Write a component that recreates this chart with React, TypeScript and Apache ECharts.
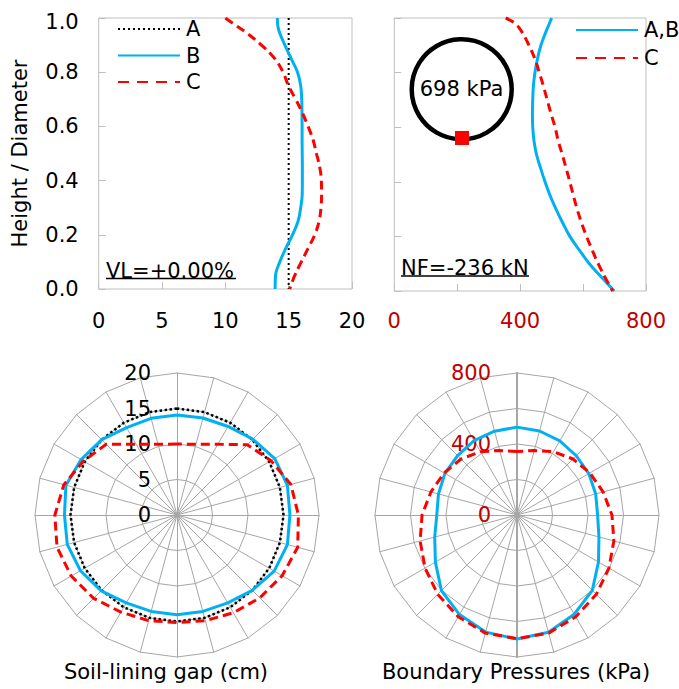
import React, { useEffect, useRef } from 'react';
import * as echarts from 'echarts';

const FONT = 'DejaVu Sans';

// Height / Diameter positions for the profile plots
const HEIGHTS = [1.0, 0.98, 0.95, 0.9, 0.85, 0.8, 0.75, 0.7, 0.65, 0.6, 0.55, 0.5, 0.45, 0.4, 0.35, 0.3, 0.25, 0.2, 0.15, 0.1, 0.05, 0.0];
// Soil-lining gap (cm)
const GAP_A_HEIGHTS = [1.0, 0.0];
const GAP_A = [15, 15];
const GAP_B = [14.11, 14.12, 14.25, 14.7, 15.2, 15.7, 15.95, 16.03, 16.05, 16.06, 16.06, 16.07, 16.08, 16.08, 16.07, 15.95, 15.74, 15.3, 14.77, 14.3, 13.96, 13.93];
const GAP_C = [10.0, 10.6, 11.54, 12.85, 13.9, 14.56, 14.98, 15.56, 16.08, 16.53, 16.93, 17.19, 17.45, 17.58, 17.6, 17.55, 17.4, 17.06, 16.53, 16.0, 15.48, 15.08];
// Boundary pressures (kPa)
const PRESS_AB = [500, 493, 482, 466, 455, 447, 442, 440, 439, 440, 444, 452, 465, 479, 495, 514, 535, 558, 588, 620, 659, 699];
const PRESS_C = [354, 384, 405, 428, 447, 461, 474, 486, 498, 511, 521, 534, 546, 558, 569, 581, 595, 611, 629, 648, 670, 694];

// Radar values, clockwise from crown, 15 degree steps (24 spokes)
const RADAR_GAP_A = [15, 15, 15, 15, 15, 15, 15, 15, 15, 15, 15, 15, 15, 15, 15, 15, 15, 15, 15, 15, 15, 15, 15, 15];
const RADAR_GAP_B = [14.07, 14.15, 14.4, 15.1, 15.9, 16.1, 15.9, 16.1, 15.8, 15.0, 14.3, 14.06, 14.06, 14.06, 14.3, 15.1, 15.7, 16.0, 15.85, 16.2, 15.6, 15.0, 14.2, 14.1];
const RADAR_GAP_C = [10.0, 10.3, 11.5, 14.0, 15.3, 16.6, 17.1, 17.6, 17.1, 16.5, 15.9, 15.4, 15.15, 15.4, 15.8, 16.6, 17.2, 17.5, 17.2, 16.5, 15.2, 14.1, 11.5, 10.3];
const RADAR_PRESS_AB = [495, 490, 482, 472, 467, 459, 454, 478, 530, 600, 645, 684, 699, 683, 648, 602, 531, 480, 452, 458, 469, 473, 484, 489];
const RADAR_PRESS_C = [358, 376, 412, 446, 474, 502, 535, 565, 598, 632, 662, 689, 697, 689, 662, 632, 598, 565, 535, 502, 474, 446, 412, 376];

const GAP_TICKS = [0, 20, 5];
const PRESS_TICKS = [0, 800, 200];

const CYAN = '#00b0f0';
const RED = '#ff0000';
const DARKRED = '#c00000';
const GRID_GRAY = '#bfbfbf';
const RADAR_GRAY = '#a6a6a6';
const DASH = [9, 5];
const DOT = [2, 3];

const pairs = (xs: number[], ys: number[]) => xs.map((x, i) => [x, ys[i]]);
const toCCW = (cw: number[]) => cw.map((_, i) => cw[(cw.length - i) % cw.length]);

function buildIndicators(min: number, max: number, labelOpt: any, boldVertical: boolean) {
  return RADAR_GAP_A.map((_, i) => {
    const ind: any = { name: '', min, max };
    if (i === 0) ind.axisLabel = labelOpt;
    if (boldVertical && (i === 0 || i === 12)) ind.axisLine = { lineStyle: { color: RADAR_GRAY, width: 2 } };
    return ind;
  });
}

export default function App() {
  const ref = useRef<HTMLDivElement>(null);
  useEffect(() => {
    if (!ref.current) return;
    const chart = echarts.init(ref.current, null, { renderer: 'svg' });
    const axisLabelBase = { fontSize: 21, color: '#000', fontFamily: FONT };
    const radarCommon = {
      shape: 'polygon',
      splitNumber: 4,
      startAngle: 90,
      radius: 142,
      axisName: { show: false },
      splitLine: { lineStyle: { color: RADAR_GRAY, width: 1 } },
      splitArea: { show: false },
      axisLine: { lineStyle: { color: RADAR_GRAY, width: 1 } },
      axisTick: { show: false },
      axisLabel: { show: false },
    };
    const legendText = { fontSize: 21, color: '#000', fontFamily: FONT, lineHeight: 21 };
    const option: any = {
      animation: false,
      textStyle: { fontFamily: FONT },
      grid: [
        { left: 98.7, top: 18, width: 253.3, height: 271, show: true, borderColor: GRID_GRAY, borderWidth: 1 },
        { left: 394.3, top: 18, width: 251.7, height: 273, show: true, borderColor: GRID_GRAY, borderWidth: 1 },
      ],
      xAxis: [
        {
          type: 'value', gridIndex: 0, min: GAP_TICKS[0], max: GAP_TICKS[1], interval: GAP_TICKS[2],
          axisLine: { show: false }, splitLine: { show: false },
          axisTick: { show: true, inside: true, length: 7, lineStyle: { color: GRID_GRAY } },
          axisLabel: { ...axisLabelBase, margin: 21 },
        },
        {
          type: 'value', gridIndex: 1, min: PRESS_TICKS[0], max: PRESS_TICKS[1], interval: PRESS_TICKS[2],
          axisLine: { show: false }, splitLine: { show: false },
          axisTick: { show: true, inside: true, length: 7, lineStyle: { color: GRID_GRAY } },
          axisLabel: { ...axisLabelBase, color: DARKRED, margin: 19, formatter: (v: number) => (v % 400 === 0 ? String(v) : '') },
        },
      ],
      yAxis: [
        {
          type: 'value', gridIndex: 0, min: 0, max: 1, interval: 0.2,
          axisLine: { show: false }, splitLine: { show: false },
          axisTick: { show: true, inside: true, length: 7, lineStyle: { color: GRID_GRAY } },
          axisLabel: {
            ...axisLabelBase, margin: 20,
            formatter: (v: number) => (v === 1 ? '{top|' + v.toFixed(1) + '}' : v.toFixed(1)),
            rich: { top: { fontSize: 21, fontFamily: FONT, color: '#000', padding: [8, 0, 0, 0] } },
          },
          name: 'Height / Diameter', nameLocation: 'middle', nameGap: 68,
          nameTextStyle: { fontSize: 21, color: '#000', fontFamily: FONT },
        },
        {
          type: 'value', gridIndex: 1, min: 0, max: 1, interval: 0.2,
          axisLine: { show: false }, splitLine: { show: false },
          axisTick: { show: true, inside: true, length: 7, lineStyle: { color: GRID_GRAY } },
          axisLabel: { show: false },
        },
      ],
      legend: [
        {
          data: ['A', 'B', { name: 'C', lineStyle: { type: [11, 8] } }],
          orient: 'vertical', left: 117, top: 18.5, padding: 0, itemWidth: 62, itemHeight: 14, itemGap: 5.5,
          selectedMode: false,
          itemStyle: { opacity: 0 },
          textStyle: { ...legendText, padding: [0, 0, 0, 1] },
        },
        {
          data: ['A,B', { name: 'C2', lineStyle: { type: [11, 8] } }],
          orient: 'vertical', left: 575, top: 19.5, padding: 0, itemWidth: 62, itemHeight: 14, itemGap: 7,
          selectedMode: false,
          itemStyle: { opacity: 0 },
          formatter: (n: string) => (n === 'C2' ? 'C' : n),
          textStyle: { ...legendText, padding: [0, 0, 0, 1] },
        },
      ],
      radar: [
        {
          ...radarCommon,
          center: [177, 515],
          indicator: buildIndicators(GAP_TICKS[0], GAP_TICKS[1], { show: true, ...axisLabelBase, margin: 26 }, false),
        },
        {
          ...radarCommon,
          center: [517, 515],
          indicator: buildIndicators(PRESS_TICKS[0], PRESS_TICKS[1], {
            show: true, ...axisLabelBase, color: DARKRED, margin: 26,
            formatter: (v: number) => (v % 400 === 0 ? String(v) : ''),
          }, true),
        },
      ],
      series: [
        {
          name: 'A', type: 'line', xAxisIndex: 0, yAxisIndex: 0, symbol: 'none',
          data: pairs(GAP_A, GAP_A_HEIGHTS),
          lineStyle: { color: '#000', width: 2, type: DOT }, itemStyle: { color: '#000' },
        },
        {
          name: 'B', type: 'line', xAxisIndex: 0, yAxisIndex: 0, symbol: 'none', smooth: 0.4,
          data: pairs(GAP_B, HEIGHTS),
          lineStyle: { color: CYAN, width: 3 }, itemStyle: { color: CYAN },
        },
        {
          name: 'C', type: 'line', xAxisIndex: 0, yAxisIndex: 0, symbol: 'none', smooth: 0.4,
          data: pairs(GAP_C, HEIGHTS),
          lineStyle: { color: RED, width: 3, type: DASH }, itemStyle: { color: RED },
        },
        {
          name: 'A,B', type: 'line', xAxisIndex: 1, yAxisIndex: 1, symbol: 'none', smooth: 0.4,
          data: pairs(PRESS_AB, HEIGHTS),
          lineStyle: { color: CYAN, width: 3 }, itemStyle: { color: CYAN },
        },
        {
          name: 'C2', type: 'line', xAxisIndex: 1, yAxisIndex: 1, symbol: 'none', smooth: 0.4,
          data: pairs(PRESS_C, HEIGHTS),
          lineStyle: { color: RED, width: 3, type: DASH }, itemStyle: { color: RED },
        },
        {
          type: 'radar', radarIndex: 0, symbol: 'none', z: 3,
          data: [
            { name: 'gap-A', value: toCCW(RADAR_GAP_A), lineStyle: { color: '#000', width: 2.5, type: [2.5, 2.5] } },
            { name: 'gap-B', value: toCCW(RADAR_GAP_B), lineStyle: { color: CYAN, width: 3 } },
            { name: 'gap-C', value: toCCW(RADAR_GAP_C), lineStyle: { color: RED, width: 3, type: DASH } },
          ],
        },
        {
          type: 'radar', radarIndex: 1, symbol: 'none', z: 3,
          data: [
            { name: 'press-AB', value: toCCW(RADAR_PRESS_AB), lineStyle: { color: CYAN, width: 3 } },
            { name: 'press-C', value: toCCW(RADAR_PRESS_C), lineStyle: { color: RED, width: 3, type: DASH } },
          ],
        },
      ],
      graphic: [
        { type: 'circle', shape: { cx: 461.7, cy: 89.3, r: 50 }, style: { fill: 'none', stroke: '#000', lineWidth: 4.5 }, z: 10 },
        { type: 'text', x: 461.5, y: 89, style: { text: '698 kPa', fontSize: 21, fontFamily: FONT, fill: '#000', align: 'center', verticalAlign: 'middle' }, z: 10 },
        { type: 'rect', shape: { x: 455, y: 131, width: 14, height: 14 }, style: { fill: RED }, z: 11 },
        { type: 'text', x: 106, y: 270.5, style: { text: 'VL=+0.00%', fontSize: 21, fontFamily: FONT, fill: '#000', align: 'left', verticalAlign: 'middle' }, z: 10 },
        { type: 'line', shape: { x1: 106, y1: 278.5, x2: 236, y2: 278.5 }, style: { stroke: '#000', lineWidth: 1.5 }, z: 10 },
        { type: 'text', x: 401, y: 267.5, style: { text: 'NF=-236 kN', fontSize: 21, fontFamily: FONT, fill: '#000', align: 'left', verticalAlign: 'middle' }, z: 10 },
        { type: 'line', shape: { x1: 401, y1: 276, x2: 529, y2: 276 }, style: { stroke: '#000', lineWidth: 1.5 }, z: 10 },
        { type: 'text', x: 166, y: 672, style: { text: 'Soil-lining gap (cm)', fontSize: 21, fontFamily: FONT, fill: '#000', align: 'center', verticalAlign: 'middle' }, z: 10 },
        { type: 'text', x: 516, y: 672, style: { text: 'Boundary Pressures (kPa)', fontSize: 21, fontFamily: FONT, fill: '#000', align: 'center', verticalAlign: 'middle' }, z: 10 },
      ],
    };
    chart.setOption(option);
    return () => chart.dispose();
  }, []);
  return <div ref={ref} style={{ position: 'absolute', left: 0, top: 0, width: 679, height: 689, background: '#fff' }} />;
}
